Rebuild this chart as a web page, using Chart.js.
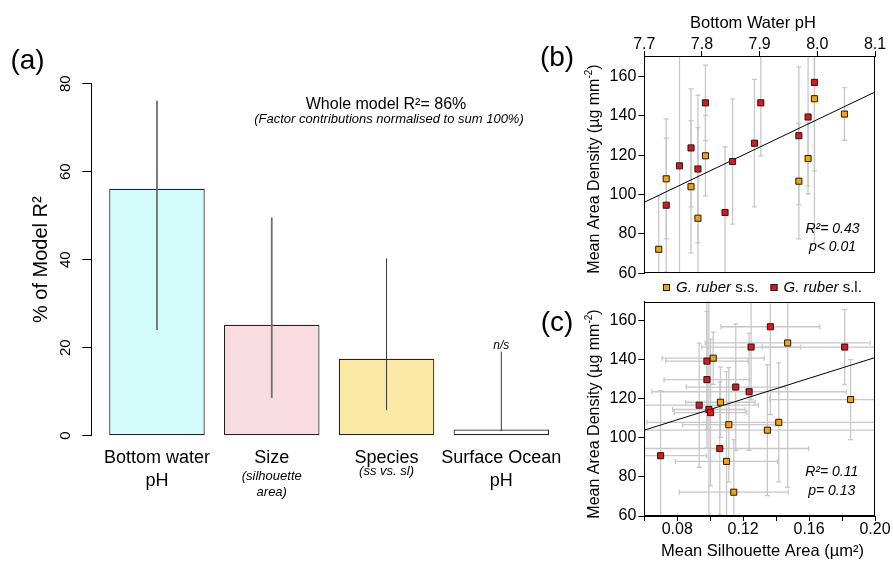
<!DOCTYPE html>
<html>
<head>
<meta charset="utf-8">
<title>Shell density vs pH</title>
<script src="https://cdn.jsdelivr.net/npm/chart.js@4.4.1/dist/chart.umd.min.js"></script>
<style>
  html, body { margin: 0; padding: 0; background: #fff; }
  #wrap { position: relative; width: 893px; height: 562px; overflow: hidden; }
  canvas { position: absolute; }
  #chart-a { left: 0; top: 0; }
  #chart-b { left: 530px; top: 0; }
  #chart-c { left: 530px; top: 290px; }
</style>
</head>
<body>
<div id="wrap">
  <canvas id="chart-a" width="580" height="562"></canvas>
  <canvas id="chart-b" width="363" height="300"></canvas>
  <canvas id="chart-c" width="363" height="272"></canvas>
</div>
<script>
// ---- (a) relative importance of factors ----
const factorLabels = [["Bottom water", "pH"], ["Size"], ["Species"], ["Surface Ocean", "pH"]];
const factorNotes = [[], ["(silhouette", "area)"], ["(ss vs. sl)"], []];
const contribution = [56.1, 25.2, 17.5, 1.4];
const contribLow = [24.0, 8.6, 5.8, 1.0];
const contribHigh = [76.1, 49.6, 40.3, 19.1];
const contribTicks = [0, 20, 40, 60, 80];

// ---- (b)/(c) G. ruber s.s. ----
const ssPH = [7.725, 7.738, 7.781, 7.793, 7.806, 7.968, 7.984, 7.995, 8.047];
const ssArea = [0.1143, 0.1416, 0.1347, 0.1099, 0.1852, 0.1113, 0.1062, 0.1470, 0.1018];
const ssAreaErr = [0.033, 0.080, 0.080, 0.031, 0.049, 0.028, 0.021, 0.050, 0.031];
const ssDensity = [72.2, 108.0, 104.0, 88.0, 119.7, 106.8, 118.3, 148.7, 140.9];
const ssDensityErr = [27, 30.5, 33.6, 46, 20.5, 29.3, 18, 74, 13.4];

// ---- (b)/(c) G. ruber s.l. ----
const slPH = [7.738, 7.761, 7.781, 7.793, 7.806, 7.840, 7.853, 7.891, 7.902, 7.968, 7.984, 7.995];
const slArea = [0.1058, 0.0992, 0.1236, 0.1002, 0.1816, 0.0699, 0.0933, 0.1155, 0.1248, 0.0980, 0.0980, 0.1365];
const slAreaErr = [0.054, 0.022, 0.059, 0.022, 0.050, 0.028, 0.036, 0.030, 0.030, 0.026, 0.025, 0.030];
const slDensity = [94.6, 114.6, 123.7, 113.0, 146.6, 90.9, 116.8, 126.1, 146.6, 129.9, 139.4, 157.0];
const slDensityErr = [34, 62, 30, 37.5, 19.2, 33.4, 31.8, 32.4, 27, 35, 35, 45];

// fitted lines (end points)
const fitPH = [7.7, 8.1];
const fitPHDensity = [96.1, 152.1];
const fitArea = [0.06, 0.20];
const fitAreaDensity = [104.0, 141.2];

const phTicks = [7.7, 7.8, 7.9, 8.0, 8.1];
const areaTicks = [0.06, 0.08, 0.10, 0.12, 0.14, 0.16, 0.18, 0.20];
const areaLabelled = [0.08, 0.12, 0.16, 0.20];
const densityTicks = [60, 80, 100, 120, 140, 160];

const FONT = "'Liberation Sans', Arial, Helvetica, sans-serif";
const ORANGE = "#f7a400";
const RED = "#e3141c";

Chart.defaults.font.family = FONT;
Chart.defaults.color = "#000";

function setTicks(values) {
  return (scale) => { scale.ticks = values.map((v) => ({ value: v })); };
}

function text(ctx, str, x, y, size, opts = {}) {
  ctx.save();
  ctx.font = `${opts.italic ? "italic " : ""}${size}px ${FONT}`;
  ctx.fillStyle = "#000";
  ctx.textAlign = opts.align || "center";
  ctx.textBaseline = "middle";
  if (opts.rotate) {
    ctx.translate(x, y);
    ctx.rotate(opts.rotate);
    ctx.fillText(str, 0, 0);
  } else {
    ctx.fillText(str, x, y);
  }
  ctx.restore();
}

// ---------- panel (a) ----------
const panelA = {
  id: "panelA",
  afterDatasetsDraw(chart) {
    const { ctx, scales: { x, y } } = chart;
    ctx.save();
    contribution.forEach((v, i) => {
      const px = x.getPixelForValue(i + 1);
      ctx.strokeStyle = i < 2 ? "#6e6e6e" : "#3a3a3a";
      ctx.lineWidth = i < 2 ? 1.8 : 1;
      ctx.beginPath();
      ctx.moveTo(px, y.getPixelForValue(contribLow[i]));
      ctx.lineTo(px, y.getPixelForValue(contribHigh[i]));
      ctx.stroke();
    });
    ctx.restore();
  },
  afterDraw(chart) {
    const { ctx, chartArea: a, scales: { x, y } } = chart;
    contribTicks.forEach((t) => {
      text(ctx, String(t), a.left - 25.5, y.getPixelForValue(t), 15, { rotate: -Math.PI / 2 });
    });
    text(ctx, "% of Model R²", 41, (a.top + a.bottom) / 2, 20, { rotate: -Math.PI / 2 });

    factorLabels.forEach((lines, i) => {
      const px = x.getPixelForValue(i + 1);
      lines.forEach((s, j) => text(ctx, s, px, a.bottom + 22.3 + j * 22.7, 18));
      const notes = factorNotes[i];
      const top = a.bottom + (notes.length > 1 ? 41 : 36);
      notes.forEach((s, j) => text(ctx, s, px, top + j * 15.6, 13, { italic: true }));
    });

    text(ctx, "n/s", x.getPixelForValue(4), y.getPixelForValue(contribHigh[3]) - 6.5, 12, { italic: true });
    text(ctx, "Whole model R²= 86%", 386, 105, 16);
    text(ctx, "(Factor contributions normalised to sum 100%)", 389, 119.5, 13, { italic: true });
    text(ctx, "(a)", 27.5, 61, 28);
  }
};

new Chart(document.getElementById("chart-a"), {
  type: "bar",
  data: {
    datasets: [{
      data: contribution.map((v, i) => ({ x: i + 1, y: v })),
      backgroundColor: ["#d2fbfa", "#f9dce1", "#fce9a6", "#ffffff"],
      borderColor: "#222",
      borderWidth: 1.2,
      borderSkipped: false,
      barPercentage: 1,
      categoryPercentage: 0.832
    }]
  },
  options: {
    responsive: false,
    animation: false,
    layout: { padding: { left: 0, top: 83.7, right: 13, bottom: 126.3 } },
    plugins: { legend: { display: false }, tooltip: { enabled: false } },
    scales: {
      x: {
        type: "linear",
        display: false,
        offset: false,
        grid: { offset: false },
        min: 0.428,
        max: 4.572,
        afterBuildTicks: setTicks(contribution.map((v, i) => i + 1))
      },
      y: {
        min: 0,
        max: 80,
        afterBuildTicks: setTicks(contribTicks),
        afterFit: (s) => { s.width = 91.3; },
        ticks: { display: false },
        grid: { drawOnChartArea: false, tickLength: 9, color: "#000" },
        border: { color: "#000", width: 1 }
      }
    }
  },
  plugins: [panelA]
});

// ---------- shared scatter helpers ----------
const errorBars = {
  id: "errorBars",
  beforeDatasetsDraw(chart) {
    const { ctx, chartArea: a, scales: { x, y } } = chart;
    const cap = 2.5;
    ctx.save();
    ctx.beginPath();
    ctx.rect(a.left, a.top, a.width, a.height);
    ctx.clip();
    ctx.strokeStyle = "#c8c8c8";
    ctx.lineWidth = 1.3;
    chart.data.datasets.forEach((ds) => {
      if (ds.type === "line") return;
      ds.data.forEach((p) => {
        const px = x.getPixelForValue(p.x);
        const py = y.getPixelForValue(p.y);
        const y1 = y.getPixelForValue(p.y - p.yErr);
        const y2 = y.getPixelForValue(p.y + p.yErr);
        ctx.beginPath();
        ctx.moveTo(px, y1); ctx.lineTo(px, y2);
        ctx.moveTo(px - cap, y1); ctx.lineTo(px + cap, y1);
        ctx.moveTo(px - cap, y2); ctx.lineTo(px + cap, y2);
        if (p.xErr) {
          const x1 = x.getPixelForValue(p.x - p.xErr);
          const x2 = x.getPixelForValue(p.x + p.xErr);
          ctx.moveTo(x1, py); ctx.lineTo(x2, py);
          ctx.moveTo(x1, py - cap); ctx.lineTo(x1, py + cap);
          ctx.moveTo(x2, py - cap); ctx.lineTo(x2, py + cap);
        }
        ctx.stroke();
      });
    });
    ctx.restore();
  },
  afterDraw(chart) {
    const { ctx, chartArea: a } = chart;
    ctx.save();
    ctx.strokeStyle = "#000";
    ctx.lineWidth = 1;
    ctx.strokeRect(Math.round(a.left) + 0.5, Math.round(a.top) + 0.5,
      Math.round(a.width) - 1, Math.round(a.height) - 1);
    ctx.restore();
  }
};

function pointSet(xs, ys, yErr, xErr, color) {
  return {
    data: xs.map((v, i) => ({ x: v, y: ys[i], yErr: yErr[i], xErr: xErr ? xErr[i] : 0 })),
    pointStyle: "rect",
    pointRadius: 4.3,
    backgroundColor: color,
    borderColor: "#1a1a1a",
    borderWidth: 1
  };
}

function fitSet(xs, ys) {
  return {
    type: "line",
    data: xs.map((v, i) => ({ x: v, y: ys[i] })),
    borderColor: "#000",
    borderWidth: 1,
    pointRadius: 0,
    fill: false,
    order: 3
  };
}

function densityAxis() {
  return {
    min: 60,
    max: 170.4,
    afterBuildTicks: setTicks(densityTicks),
    afterFit: (s) => { s.width = 114.3; },
    ticks: { font: { size: 16 }, padding: 2 },
    grid: { drawOnChartArea: false, tickLength: 6, color: "#000" },
    border: { color: "#000" }
  };
}

function densityTitle(ctx, yc) {
  ctx.save();
  ctx.translate(65, yc);
  ctx.rotate(-Math.PI / 2);
  ctx.font = `16px ${FONT}`;
  ctx.fillStyle = "#000";
  ctx.textBaseline = "middle";
  const main = "Mean Area Density (µg mm";
  const w1 = ctx.measureText(main).width;
  ctx.font = `10px ${FONT}`;
  const w2 = ctx.measureText("-2").width;
  ctx.font = `16px ${FONT}`;
  const w3 = ctx.measureText(")").width;
  let x0 = -(w1 + w2 + w3) / 2;
  ctx.fillText(main, x0, 0);
  ctx.font = `10px ${FONT}`;
  ctx.fillText("-2", x0 + w1, -6);
  ctx.font = `16px ${FONT}`;
  ctx.fillText(")", x0 + w1 + w2, 0);
  ctx.restore();
}

// ---------- panel (b) ----------
const panelB = {
  id: "panelB",
  afterDraw(chart) {
    const { ctx } = chart;
    text(ctx, "Bottom Water pH", 223, 23, 16.5);
    text(ctx, "(b)", 27, 58, 28);
    densityTitle(ctx, 169);
    text(ctx, "R²= 0.43", 302.5, 229, 14, { italic: true });
    text(ctx, "p< 0.01", 302.5, 246.7, 14, { italic: true });

    // legend
    const ly = 288;
    const items = [[ORANGE, "s.s."], [RED, "s.l."]];
    let lx = 133;
    items.forEach(([col, suffix]) => {
      ctx.save();
      ctx.fillStyle = col;
      ctx.strokeStyle = "#1a1a1a";
      ctx.lineWidth = 1;
      ctx.fillRect(lx, ly - 4, 7, 7);
      ctx.strokeRect(lx + 0.5, ly - 3.5, 6, 6);
      ctx.font = `italic 15px ${FONT}`;
      ctx.fillStyle = "#000";
      ctx.textBaseline = "middle";
      const name = "G. ruber";
      ctx.fillText(name, lx + 13, ly);
      const wn = ctx.measureText(name + " ").width;
      ctx.font = `15px ${FONT}`;
      ctx.fillText(suffix, lx + 13 + wn, ly);
      ctx.restore();
      lx = 240.5;
    });
  }
};

new Chart(document.getElementById("chart-b"), {
  type: "scatter",
  data: {
    datasets: [
      pointSet(ssPH, ssDensity, ssDensityErr, null, ORANGE),
      pointSet(slPH, slDensity, slDensityErr, null, RED),
      fitSet(fitPH, fitPHDensity)
    ]
  },
  options: {
    responsive: false,
    animation: false,
    layout: { padding: { left: 0, top: 0, right: 18, bottom: 26.7 } },
    plugins: { legend: { display: false }, tooltip: { enabled: false } },
    scales: {
      x: {
        type: "linear",
        position: "top",
        min: 7.7,
        max: 8.1,
        afterBuildTicks: setTicks(phTicks),
        afterFit: (s) => { s.height = 56; },
        ticks: { font: { size: 16 }, padding: -3, maxRotation: 0, autoSkip: false,
          callback: (v) => Number(v).toFixed(1) },
        grid: { drawOnChartArea: false, tickLength: 5, color: "#000" },
        border: { color: "#000" }
      },
      y: densityAxis()
    }
  },
  plugins: [errorBars, panelB]
});

// ---------- panel (c) ----------
const panelC = {
  id: "panelC",
  afterDraw(chart) {
    const { ctx } = chart;
    text(ctx, "(c)", 27, 33, 28);
    densityTitle(ctx, 124);
    text(ctx, "R²= 0.11", 301.7, 182, 14, { italic: true });
    text(ctx, "p= 0.13", 301.7, 200.7, 14, { italic: true });
    text(ctx, "Mean Silhouette Area (µm²)", 232.5, 261, 16.5);
  }
};

new Chart(document.getElementById("chart-c"), {
  type: "scatter",
  data: {
    datasets: [
      pointSet(ssArea, ssDensity, ssDensityErr, ssAreaErr, ORANGE),
      pointSet(slArea, slDensity, slDensityErr, slAreaErr, RED),
      fitSet(fitArea, fitAreaDensity)
    ]
  },
  options: {
    responsive: false,
    animation: false,
    layout: { padding: { left: 0, top: 10, right: 18, bottom: 0 } },
    plugins: { legend: { display: false }, tooltip: { enabled: false } },
    scales: {
      x: {
        type: "linear",
        min: 0.06,
        max: 0.20,
        afterBuildTicks: setTicks(areaTicks),
        afterFit: (s) => { s.height = 46; },
        ticks: { font: { size: 16 }, padding: -1, maxRotation: 0, autoSkip: false,
          callback: (v) => areaLabelled.some((t) => Math.abs(t - v) < 1e-6) ? Number(v).toFixed(2) : "" },
        grid: { drawOnChartArea: false, tickLength: 5, color: "#000" },
        border: { color: "#000" }
      },
      y: Object.assign(densityAxis(), { max: 169.9 })
    }
  },
  plugins: [errorBars, panelC]
});
</script>
</body>
</html>
